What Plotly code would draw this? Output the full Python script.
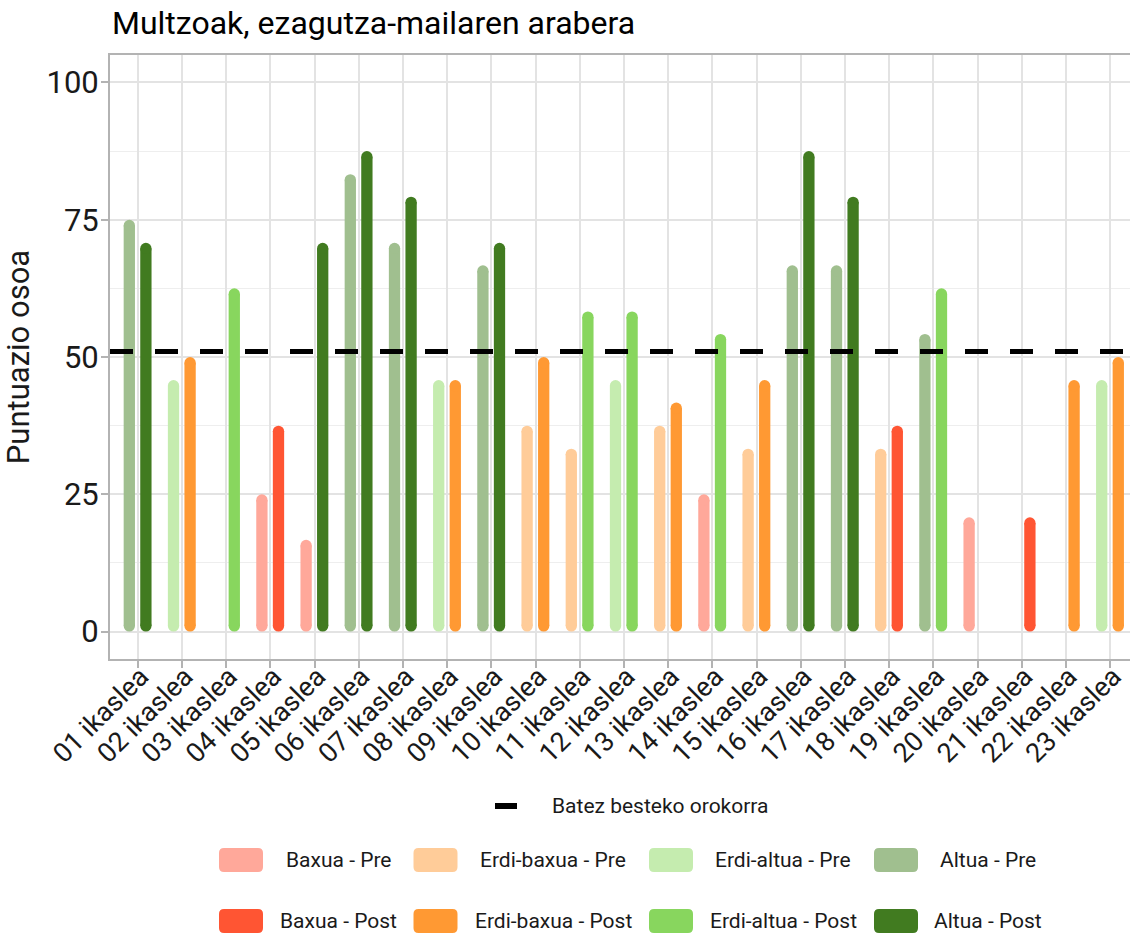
import plotly.graph_objects as go

# ikasleak eta puntuazioak (None = ez dago barrarik)
students = [f"{i:02d} ikaslea" for i in range(1, 24)]

pre_score = [75.0, 45.8, None, 25.0, 16.7, 83.3, 70.8, 45.8, 66.7, 37.5, 33.3, 45.8,
             37.5, 25.0, 33.3, 66.7, 66.7, 33.3, 54.2, 20.8, None, None, 45.8]
post_score = [70.8, 50.0, 62.5, 37.5, 70.8, 87.5, 79.2, 45.8, 70.8, 50.0, 58.3, 58.3,
              41.7, 54.2, 45.8, 87.5, 79.2, 37.5, 62.5, None, 20.8, 45.8, 50.0]

pre_level = ["Altua", "Erdi-altua", None, "Baxua", "Baxua", "Altua", "Altua", "Erdi-altua",
             "Altua", "Erdi-baxua", "Erdi-baxua", "Erdi-altua", "Erdi-baxua", "Baxua",
             "Erdi-baxua", "Altua", "Altua", "Erdi-baxua", "Altua", "Baxua", None, None,
             "Erdi-altua"]
post_level = ["Altua", "Erdi-baxua", "Erdi-altua", "Baxua", "Altua", "Altua", "Altua",
              "Erdi-baxua", "Altua", "Erdi-baxua", "Erdi-altua", "Erdi-altua", "Erdi-baxua",
              "Erdi-altua", "Erdi-baxua", "Altua", "Altua", "Baxua", "Erdi-altua", None,
              "Baxua", "Erdi-baxua", "Erdi-baxua"]

mean_score = 51.0

levels = ["Baxua", "Erdi-baxua", "Erdi-altua", "Altua"]
colors = {
    ("Baxua", "Pre"): "#FFA89A", ("Baxua", "Post"): "#FF5533",
    ("Erdi-baxua", "Pre"): "#FFCC99", ("Erdi-baxua", "Post"): "#FF9933",
    ("Erdi-altua", "Pre"): "#C5ECAF", ("Erdi-altua", "Post"): "#88D65E",
    ("Altua", "Pre"): "#A0BF8F", ("Altua", "Post"): "#417B20",
}

FONT = "Roboto"
L, R, T, B = 110, 1130, 55, 659
x_range = [-0.627, 22.45]
y_range = [-5, 105]

# segments with round ends: thick line + a dot of the same size at each end
seg_px = 11.3
cap = (seg_px / 2) * (y_range[1] - y_range[0]) / (B - T)   # dot radius in y units
dodge = {"Pre": -0.19, "Post": 0.185}

fig = go.Figure()

series = {"Pre": (pre_score, pre_level), "Post": (post_score, post_level)}
for phase, (scores, lvls) in series.items():
    for lvl in levels:
        xs, ys, vals = [], [], []
        for i, (v, l) in enumerate(zip(scores, lvls)):
            if l != lvl or v is None:
                continue
            xs += [i + dodge[phase], i + dodge[phase], None]
            ys += [cap, v - cap, None]
            vals += [v, v, None]
        if not xs:
            continue
        fig.add_trace(go.Scatter(
            x=xs, y=ys, mode="lines+markers",
            line=dict(color=colors[(lvl, phase)], width=seg_px),
            marker=dict(color=colors[(lvl, phase)], size=seg_px, line=dict(width=0)),
            name=f"{lvl} - {phase}", customdata=vals,
            hovertemplate="%{customdata}<extra>" + f"{lvl} - {phase}" + "</extra>",
        ))

fig.add_hline(y=mean_score, line=dict(color="black", width=5, dash="23px,22px"), layer="above")


# legend drawn by hand (big rounded keys, centred labels)
def px_x(p):
    return (p - L) / (R - L)


def px_y(p):
    return (B - p) / (B - T)


fig.add_shape(type="line", xref="paper", yref="paper", x0=px_x(495), x1=px_x(517),
              y0=px_y(806), y1=px_y(806), line=dict(color="black", width=6))
fig.add_annotation(text="Batez besteko orokorra", xref="paper", yref="paper",
                   x=px_x(550), y=px_y(806), xanchor="left", yanchor="middle",
                   showarrow=False, font=dict(family=FONT, size=21, color="#1a1a1a"))

key_x = [241, 435.5, 671, 896]
text_x = [338.5, 553, 783, 988]
row_y = {"Pre": 860, "Post": 921}
rr = "M -17,-12 L 17,-12 Q 22,-12 22,-7 L 22,7 Q 22,12 17,12 L -17,12 Q -22,12 -22,7 L -22,-7 Q -22,-12 -17,-12 Z"
for phase in ["Pre", "Post"]:
    for i, lvl in enumerate(levels):
        fig.add_shape(type="path", path=rr, xref="paper", yref="paper",
                      xsizemode="pixel", ysizemode="pixel",
                      xanchor=px_x(key_x[i]), yanchor=px_y(row_y[phase]),
                      fillcolor=colors[(lvl, phase)], line=dict(width=0))
        fig.add_annotation(text=f"{lvl} - {phase}", xref="paper", yref="paper",
                           x=px_x(text_x[i]), y=px_y(row_y[phase]),
                           xanchor="center", yanchor="middle", showarrow=False,
                           font=dict(family=FONT, size=21, color="#1a1a1a"))

fig.update_layout(
    width=1130, height=936,
    margin=dict(l=L, r=1130 - R, t=T, b=936 - B),
    paper_bgcolor="white", plot_bgcolor="white",
    showlegend=False,
    font=dict(family=FONT, color="#1a1a1a"),
    title=dict(text="Multzoak, ezagutza-mailaren arabera", x=112 / 1130, xanchor="left",
               xref="container", y=1 - 23 / 936, yanchor="middle", yref="container",
               font=dict(family=FONT, size=32, color="black")),
    xaxis=dict(
        range=x_range, tickvals=list(range(len(students))), ticktext=students,
        automargin=False,
        tickangle=-45, tickfont=dict(family=FONT, size=27, color="#1a1a1a"),
        ticks="outside", ticklen=7, tickcolor="#b3b3b3", tickwidth=1.5,
        ticklabelstandoff=-18, ticklabelshift=3, ticklabeloverflow="allow",
        showgrid=True, gridcolor="#e3e3e3", gridwidth=1.5,
        showline=True, linecolor="#b3b3b3", linewidth=2, mirror=True,
        zeroline=False,
    ),
    yaxis=dict(
        range=y_range, tickvals=[0, 25, 50, 75, 100], automargin=False,
        tickfont=dict(family=FONT, size=31, color="#1a1a1a"),
        ticks="outside", ticklen=7, tickcolor="#b3b3b3", tickwidth=1.5,
        ticklabelstandoff=-4,
        showgrid=True, gridcolor="#e3e3e3", gridwidth=1.5,
        minor=dict(tickvals=[12.5, 37.5, 62.5, 87.5], showgrid=True, gridcolor="#eeeeee",
                   gridwidth=1, ticks=""),
        showline=True, linecolor="#b3b3b3", linewidth=2,
        zeroline=False,
        title=dict(text="Puntuazio osoa", standoff=16,
                   font=dict(family=FONT, size=31, color="#1a1a1a")),
    ),
)

fig.write_html("out.html", config={"displayModeBar": False},
               post_script="document.body.style.margin='0px';")
